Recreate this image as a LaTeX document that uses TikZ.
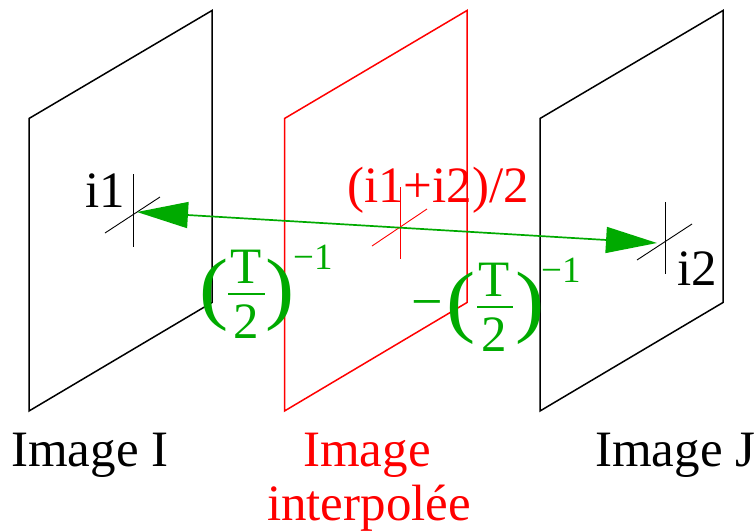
\documentclass[tikz,border=0pt]{standalone}
\usepackage{fontspec}
\usepackage{graphicx}
\setmainfont{Liberation Serif}
\usetikzlibrary{arrows.meta}
\definecolor{grn}{HTML}{00AA00}
\tikzset{
 panel/.style={line width=1.5pt,line join=miter},
 tick/.style={line width=0.9pt},
 lbl/.style={anchor=base west,inner sep=0pt,font=\fontsize{51}{56}\selectfont},
 mid/.style={anchor=base,inner sep=0pt,font=\fontsize{51}{56}\selectfont},
 sup/.style={anchor=base west,inner sep=0pt,text=grn,font=\fontsize{37}{40}\selectfont},
 par/.style={anchor=center,inner sep=0pt,text=grn,font=\fontsize{50}{56}\selectfont},
 frule/.style={grn,line width=1.5pt},
 dbl/.style={grn,line width=1.7pt,{Triangle[length=51pt,width=26pt]}-{Triangle[length=51pt,width=26pt]}},
}
\newcommand{\bigparL}{\scalebox{1.75}[1.6]{(}}
\newcommand{\bigparR}{\scalebox{1.75}[1.6]{)}}
\begin{document}
\begin{tikzpicture}[x=1pt,y=-1pt]
\useasboundingbox (0,0) rectangle (756,531);
\draw[panel] (29,118.5)--(212,10.5)--(212,302.5)--(29,411)--cycle;
\draw[panel,red] (284.5,118.5)--(467,10.5)--(467,302.5)--(284.5,411)--cycle;
\draw[panel] (540,118.5)--(723,10.5)--(723,302.5)--(540,411)--cycle;
% crosses
\draw[tick] (133,174)--(133,247);
\draw[tick] (105,233)--(160,197);
\draw[tick,red] (400,187)--(400,259);
\draw[tick,red] (372,246)--(427,209);
\draw[tick] (665,202)--(665,274);
\draw[tick] (637,260)--(692,224);
% connector
\coordinate (c1) at (137,212);
\coordinate (c2) at (657,243);
\draw[dbl] (c1)--(c2);
% labels
\node[lbl] (i1) at (85,207) {i1};
\node[lbl] (i2) at (677,285) {i2};
\node[lbl,text=red] (mid) at (347,202) {(i1+i2)/2};
\node[lbl] (imI) at (11,466) {Image I};
\node[mid,text=red] (imM) at (367,466) {Image};
\node[mid,text=red] (imM2) at (369,520) {interpolée};
\node[lbl] (imJ) at (595,466) {Image J};
% left fraction
\node[mid,text=grn] (t1) at (246,283) {T};
\node[mid,text=grn] (d1) at (246,338) {2};
\coordinate (r1a) at (228,294); \coordinate (r1b) at (265,294);
\draw[frule] (r1a)--(r1b);
\node[par] (pl1) at (214,295) {\bigparL};
\node[par] (pr1) at (280,295) {\bigparR};
\node[sup] (s1) at (293,269) {−1};
% right fraction
\node[mid,text=grn] (t2) at (494,296) {T};
\node[mid,text=grn] (d2) at (494,351) {2};
\coordinate (r2a) at (477,307); \coordinate (r2b) at (513,307);
\draw[frule] (r2a)--(r2b);
\node[par] (pl2) at (461,308) {\bigparL};
\node[par] (pr2) at (530,308) {\bigparR};
\node[sup] (s2) at (541,282) {−1};
\node[par,anchor=base west,font=\fontsize{56}{56}\selectfont] (m2) at (411,320) {−};
\end{tikzpicture}
\end{document}
